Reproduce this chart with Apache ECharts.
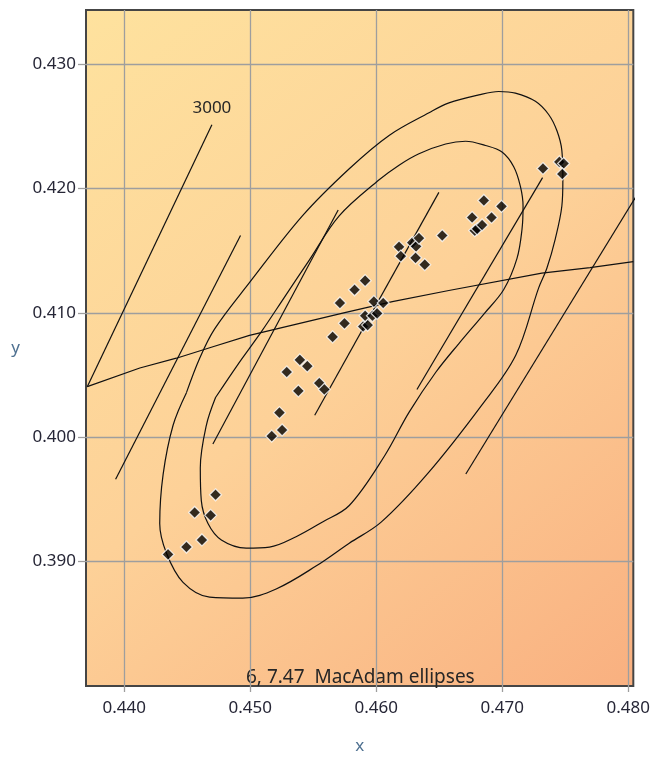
<!DOCTYPE html>
<html><head><meta charset="utf-8">
<script src="https://cdn.jsdelivr.net/npm/echarts@6/dist/echarts.min.js"></script>
<style>html,body{margin:0;padding:0;background:#fff}#c{width:653px;height:760px}</style>
</head><body><div id="c"></div>
<script>
// ---- data ----
const xTicks = [0.44, 0.45, 0.46, 0.47, 0.48];
const yTicks = [0.39, 0.40, 0.41, 0.42, 0.43];

const samplePoints = [
  [0.44348,0.39058],[0.44494,0.39117],[0.44617,0.39174],[0.44559,0.39395],[0.44686,0.39372],
  [0.44725,0.39537],[0.45171,0.40009],[0.45253,0.40058],[0.45232,0.40197],[0.45382,0.40372],
  [0.45290,0.40524],[0.45394,0.40621],[0.45453,0.40571],[0.45548,0.40435],[0.45588,0.40384],
  [0.45654,0.40806],[0.45748,0.40915],[0.45896,0.40890],[0.45932,0.40901],[0.45912,0.40976],
  [0.45970,0.40976],[0.46007,0.40995],[0.45712,0.41079],[0.45981,0.41090],[0.46055,0.41079],
  [0.45828,0.41185],[0.45912,0.41258],[0.46181,0.41530],[0.46195,0.41455],[0.46286,0.41564],
  [0.46316,0.41534],[0.46339,0.41600],[0.46312,0.41442],[0.46385,0.41387],[0.46524,0.41621],
  [0.46761,0.41766],[0.46782,0.41661],[0.46801,0.41674],[0.46840,0.41706],[0.46915,0.41766],
  [0.46854,0.41903],[0.46994,0.41856],[0.47323,0.42160],[0.47453,0.42213],[0.47487,0.42200],
  [0.47476,0.42116]
];

const ellipseOuter = [
  [0.44494,0.40358],[0.44599,0.40635],[0.44718,0.40871],[0.44994,0.41242],[0.45414,0.41779],
  [0.45786,0.42158],[0.46102,0.42426],[0.46419,0.42608],[0.46577,0.42687],[0.46814,0.42752],
  [0.46972,0.42779],[0.47104,0.42766],[0.47263,0.42700],[0.47368,0.42594],[0.47434,0.42463],
  [0.47473,0.42305],[0.47481,0.42069],[0.47473,0.41858],[0.47421,0.41595],[0.47354,0.41358],
  [0.47289,0.41200],[0.47107,0.40658],[0.46830,0.40248],[0.46411,0.39711],[0.46039,0.39317],
  [0.45786,0.39148],[0.45522,0.38964],[0.45206,0.38780],[0.44941,0.38706],[0.44678,0.38714],
  [0.44467,0.38833],[0.44335,0.39069],[0.44282,0.39306],[0.44309,0.39701],[0.44388,0.40096],
  [0.44494,0.40358]
];

const ellipseInner = [
  [0.44725,0.40319],[0.44899,0.40580],[0.45089,0.40848],[0.45271,0.41124],[0.45469,0.41424],
  [0.45706,0.41779],[0.46023,0.42069],[0.46181,0.42187],[0.46339,0.42279],[0.46551,0.42357],
  [0.46709,0.42379],[0.46867,0.42345],[0.46998,0.42292],[0.47091,0.42174],[0.47144,0.42016],
  [0.47165,0.41858],[0.47157,0.41674],[0.47117,0.41437],[0.47012,0.41187],[0.46854,0.40990],
  [0.46656,0.40753],[0.46474,0.40524],[0.46260,0.40200],[0.46063,0.39845],[0.45786,0.39451],
  [0.45574,0.39319],[0.45364,0.39200],[0.45153,0.39117],[0.44968,0.39109],[0.44771,0.39174],
  [0.44665,0.39306],[0.44612,0.39490],[0.44604,0.39753],[0.44652,0.40096],[0.44725,0.40319]
];

const planckLocus = [
  [0.43707,0.40406],[0.44124,0.40556],[0.44414,0.40635],[0.44704,0.40727],[0.44994,0.40819],
  [0.45759,0.41004],[0.46128,0.41090],[0.46576,0.41179],[0.47314,0.41319],[0.47697,0.41363],
  [0.48040,0.41411]
];

const isoLine3000 = [[0.43707,0.40406],[0.44696,0.42511]];
const isoLine2 = [[0.43932,0.39662],[0.44923,0.41621]];
const isoLine3 = [[0.44704,0.39945],[0.45698,0.41826]];
const isoLine4 = [[0.45512,0.40177],[0.46497,0.41968]];
const isoLine5 = [[0.46323,0.40383],[0.47320,0.42087]];
const isoLine6 = [[0.46711,0.39704],[0.48079,0.41964]];

const isoLabel = '3000';
const ellipseLabel = '6, 7.47  MacAdam ellipses';

// ---- chart ----
const FONT = 'Noto Sans';
const chart = echarts.init(document.getElementById('c'), null, {renderer: 'canvas'});

function lineSeries(data, extra) {
  return Object.assign({
    type: 'line', data: data, symbol: 'none', silent: true, z: 2,
    lineStyle: {color: '#111', width: 1.2}, clip: true
  }, extra || {});
}

const isoSeries = [isoLine2, isoLine3, isoLine4, isoLine5, isoLine6].map(d => lineSeries(d));

chart.setOption({
  animation: false,
  textStyle: {fontFamily: FONT},
  grid: {
    left: 86, top: 10, width: 549, height: 690, show: true,
    borderColor: '#454545', borderWidth: 2,
    backgroundColor: new echarts.graphic.LinearGradient(0, 0, 1, 1, [
      {offset: 0, color: '#FEE29E'},
      {offset: 0.5, color: '#FDD198'},
      {offset: 1, color: '#F9B080'}
    ])
  },
  xAxis: {
    type: 'value', min: 0.43697, max: 0.4804,
    name: 'x', nameLocation: 'middle', nameGap: 52,
    nameTextStyle: {color: '#4f7191', fontSize: 17, fontFamily: FONT},
    axisLine: {show: false},
    axisTick: {show: true, customValues: xTicks, length: 6, lineStyle: {color: '#9e9e9e', width: 1.3}},
    axisLabel: {customValues: xTicks, margin: 14, color: '#262636', fontSize: 17, fontFamily: FONT,
      formatter: v => v.toFixed(3)},
    splitLine: {show: true, lineStyle: {color: '#9e9e9e', width: 1.3}}
  },
  yAxis: {
    type: 'value', min: 0.38, max: 0.43434,
    name: 'y', nameLocation: 'middle', nameGap: 66, nameRotate: 0,
    nameTextStyle: {color: '#4f7191', fontSize: 17, fontFamily: FONT},
    axisLine: {show: false},
    axisTick: {show: true, customValues: yTicks, length: 8, lineStyle: {color: '#9e9e9e', width: 1.3}},
    axisLabel: {customValues: yTicks, margin: 10, color: '#262636', fontSize: 17, fontFamily: FONT,
      formatter: v => v.toFixed(3)},
    splitLine: {show: true, lineStyle: {color: '#9e9e9e', width: 1.3}}
  },
  graphic: [{
    type: 'text', left: 246, top: 668, silent: true,
    style: {text: ellipseLabel, fill: '#262626', font: '19px "Noto Sans"'}
  }],
  series: [
    lineSeries(planckLocus),
    lineSeries(isoLine3000, {
      markPoint: {
        symbol: 'circle', symbolSize: 1, silent: true,
        itemStyle: {color: 'rgba(0,0,0,0)'},
        label: {show: true, position: 'top', distance: 8, formatter: isoLabel,
          color: '#262626', fontSize: 17, fontFamily: FONT},
        data: [{coord: isoLine3000[1]}]
      }
    }),
    ...isoSeries,
    lineSeries(ellipseOuter, {smooth: 0.35}),
    lineSeries(ellipseInner, {smooth: 0.35}),
    {
      type: 'scatter', data: samplePoints, symbol: 'diamond', symbolSize: 12, z: 5,
      itemStyle: {color: '#000', borderColor: '#fff', borderWidth: 1.2}
    }
  ]
});
</script>
</body></html>
